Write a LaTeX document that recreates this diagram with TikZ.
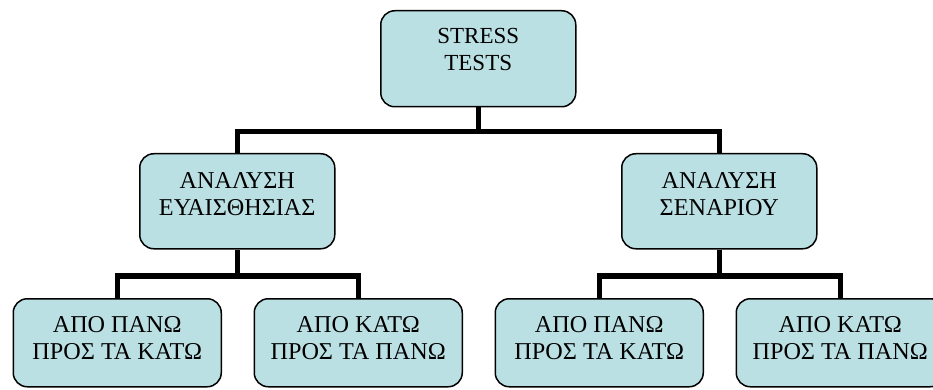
\documentclass[tikz,border=0pt]{standalone}
\usepackage{fontspec}
\setmainfont{Liberation Serif}
\usetikzlibrary{backgrounds}
\definecolor{boxfill}{HTML}{BBE0E3}
\newcommand{\boxtext}[4]{\parbox[c][#2][t]{#1}{\fontsize{24.2}{27}\selectfont\centering\vspace*{#3}#4}}
\begin{document}
\begin{tikzpicture}[x=1pt,y=-1pt,
  boxbase/.style={draw=black, line width=1.5pt, fill=boxfill, rounded corners=14pt, inner sep=0pt, anchor=north west},
  conn/.style={line width=5.5pt, line join=miter, draw=black}]
\useasboundingbox (0,0) rectangle (933,390);
% boxes
\node[boxbase] (top) at (380,10) {\boxtext{195pt}{96pt}{18pt}{\fontsize{23}{26.5}\selectfont STRESS\\TESTS}};
\node[boxbase] (ml) at (139,153) {\boxtext{195pt}{95pt}{19pt}{ΑΝΑΛΥΣΗ\\ΕΥΑΙΣΘΗΣΙΑΣ}};
\node[boxbase] (mr) at (621,153) {\boxtext{195pt}{95pt}{19pt}{ΑΝΑΛΥΣΗ\\ΣΕΝΑΡΙΟΥ}};
\node[boxbase] (b1) at (12.5,298) {\boxtext{208pt}{88pt}{17.5pt}{ΑΠΟ ΠΑΝΩ\\ΠΡΟΣ ΤΑ ΚΑΤΩ}};
\node[boxbase] (b2) at (253.5,298) {\boxtext{208pt}{88pt}{17.5pt}{ΑΠΟ ΚΑΤΩ\\ΠΡΟΣ ΤΑ ΠΑΝΩ}};
\node[boxbase] (b3) at (494.5,298) {\boxtext{208pt}{88pt}{17.5pt}{ΑΠΟ ΠΑΝΩ\\ΠΡΟΣ ΤΑ ΚΑΤΩ}};
\node[boxbase] (b4) at (735.5,298) {\boxtext{208pt}{88pt}{17.5pt}{ΑΠΟ ΚΑΤΩ\\ΠΡΟΣ ΤΑ ΠΑΝΩ}};
% connector junctions, directly below the parent boxes
\path (top.south) ++(0,24) coordinate (bar1);
\path (ml.south) ++(0,26.5) coordinate (bar2l);
\path (mr.south) ++(0,26.5) coordinate (bar2r);
\begin{scope}[on background layer]
\draw[conn] (top.south) -- (bar1);
\draw[conn] (ml.north) |- (bar1) -| (mr.north);
\draw[conn] (ml.south) -- (bar2l);
\draw[conn] (b1.north) |- (bar2l) -| (b2.north);
\draw[conn] (mr.south) -- (bar2r);
\draw[conn] (b3.north) |- (bar2r) -| (b4.north);
\end{scope}
\end{tikzpicture}
\end{document}
